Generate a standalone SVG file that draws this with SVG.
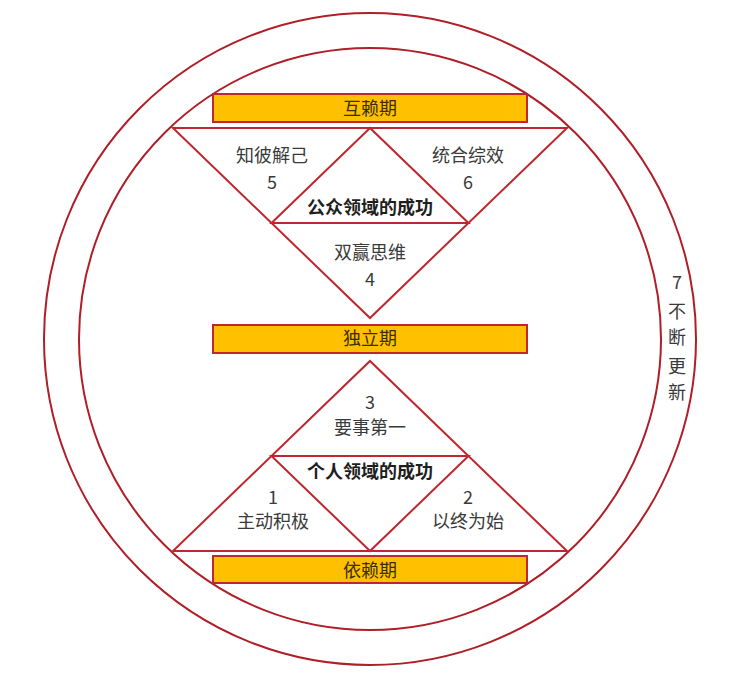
<svg xmlns="http://www.w3.org/2000/svg" width="742" height="677" viewBox="0 0 742 677">
<style>
.ln{fill:none;stroke:#C0262D;stroke-width:2;stroke-linejoin:miter}
.ring{fill:none;stroke:#B01E28;stroke-width:2}
.bar{fill:#FFC000;stroke:#C0262D;stroke-width:2}
text{font-family:"Noto Sans CJK SC","Microsoft YaHei",sans-serif;font-size:18px;fill:#3A3A3A;text-anchor:middle}
.b{font-weight:bold;fill:#1E1E1E}
.bt{fill:#3A2E00}
</style>
<rect width="742" height="677" fill="#FFFFFF"/>
<g id="rings">
<circle class="ring" cx="370" cy="339" r="326"/>
<circle class="ring" cx="370" cy="339" r="291"/>
</g>
<g id="top-triangle">
<polygon class="ln" points="173,128 567,128 370,318"/>
<polygon class="ln" points="370,128 271.5,223 468.5,223"/>
</g>
<g id="bottom-triangle">
<polygon class="ln" points="173,551 567,551 370,361"/>
<polygon class="ln" points="370,551 271.5,456 468.5,456"/>
</g>
<g id="bar-interdependence">
<rect class="bar" x="213" y="94" width="314" height="28"/>
<text class="bt" x="370" y="115">互赖期</text>
</g>
<g id="bar-independence">
<rect class="bar" x="213" y="325" width="314" height="28"/>
<text class="bt" x="370" y="345">独立期</text>
</g>
<g id="bar-dependence">
<rect class="bar" x="213" y="556" width="314" height="27"/>
<text class="bt" x="370" y="577">依赖期</text>
</g>
<g id="habit-5">
<text x="272" y="162">知彼解己</text>
<text x="272" y="189">5</text>
</g>
<g id="habit-6">
<text x="468" y="162">统合综效</text>
<text x="468" y="189">6</text>
</g>
<g id="public-victory">
<text class="b" x="370" y="214">公众领域的成功</text>
</g>
<g id="habit-4">
<text x="370" y="259">双赢思维</text>
<text x="370" y="286">4</text>
</g>
<g id="habit-3">
<text x="370" y="409">3</text>
<text x="370" y="434">要事第一</text>
</g>
<g id="private-victory">
<text class="b" x="370" y="478">个人领域的成功</text>
</g>
<g id="habit-1">
<text x="273" y="504">1</text>
<text x="273" y="528">主动积极</text>
</g>
<g id="habit-2">
<text x="468" y="504">2</text>
<text x="468" y="528">以终为始</text>
</g>
<g id="habit-7">
<text x="677" y="289">7</text>
<text x="677" y="318">不</text>
<text x="677" y="344">断</text>
<text x="677" y="373">更</text>
<text x="677" y="399">新</text>
</g>
<g id="connectors"></g>
</svg>
